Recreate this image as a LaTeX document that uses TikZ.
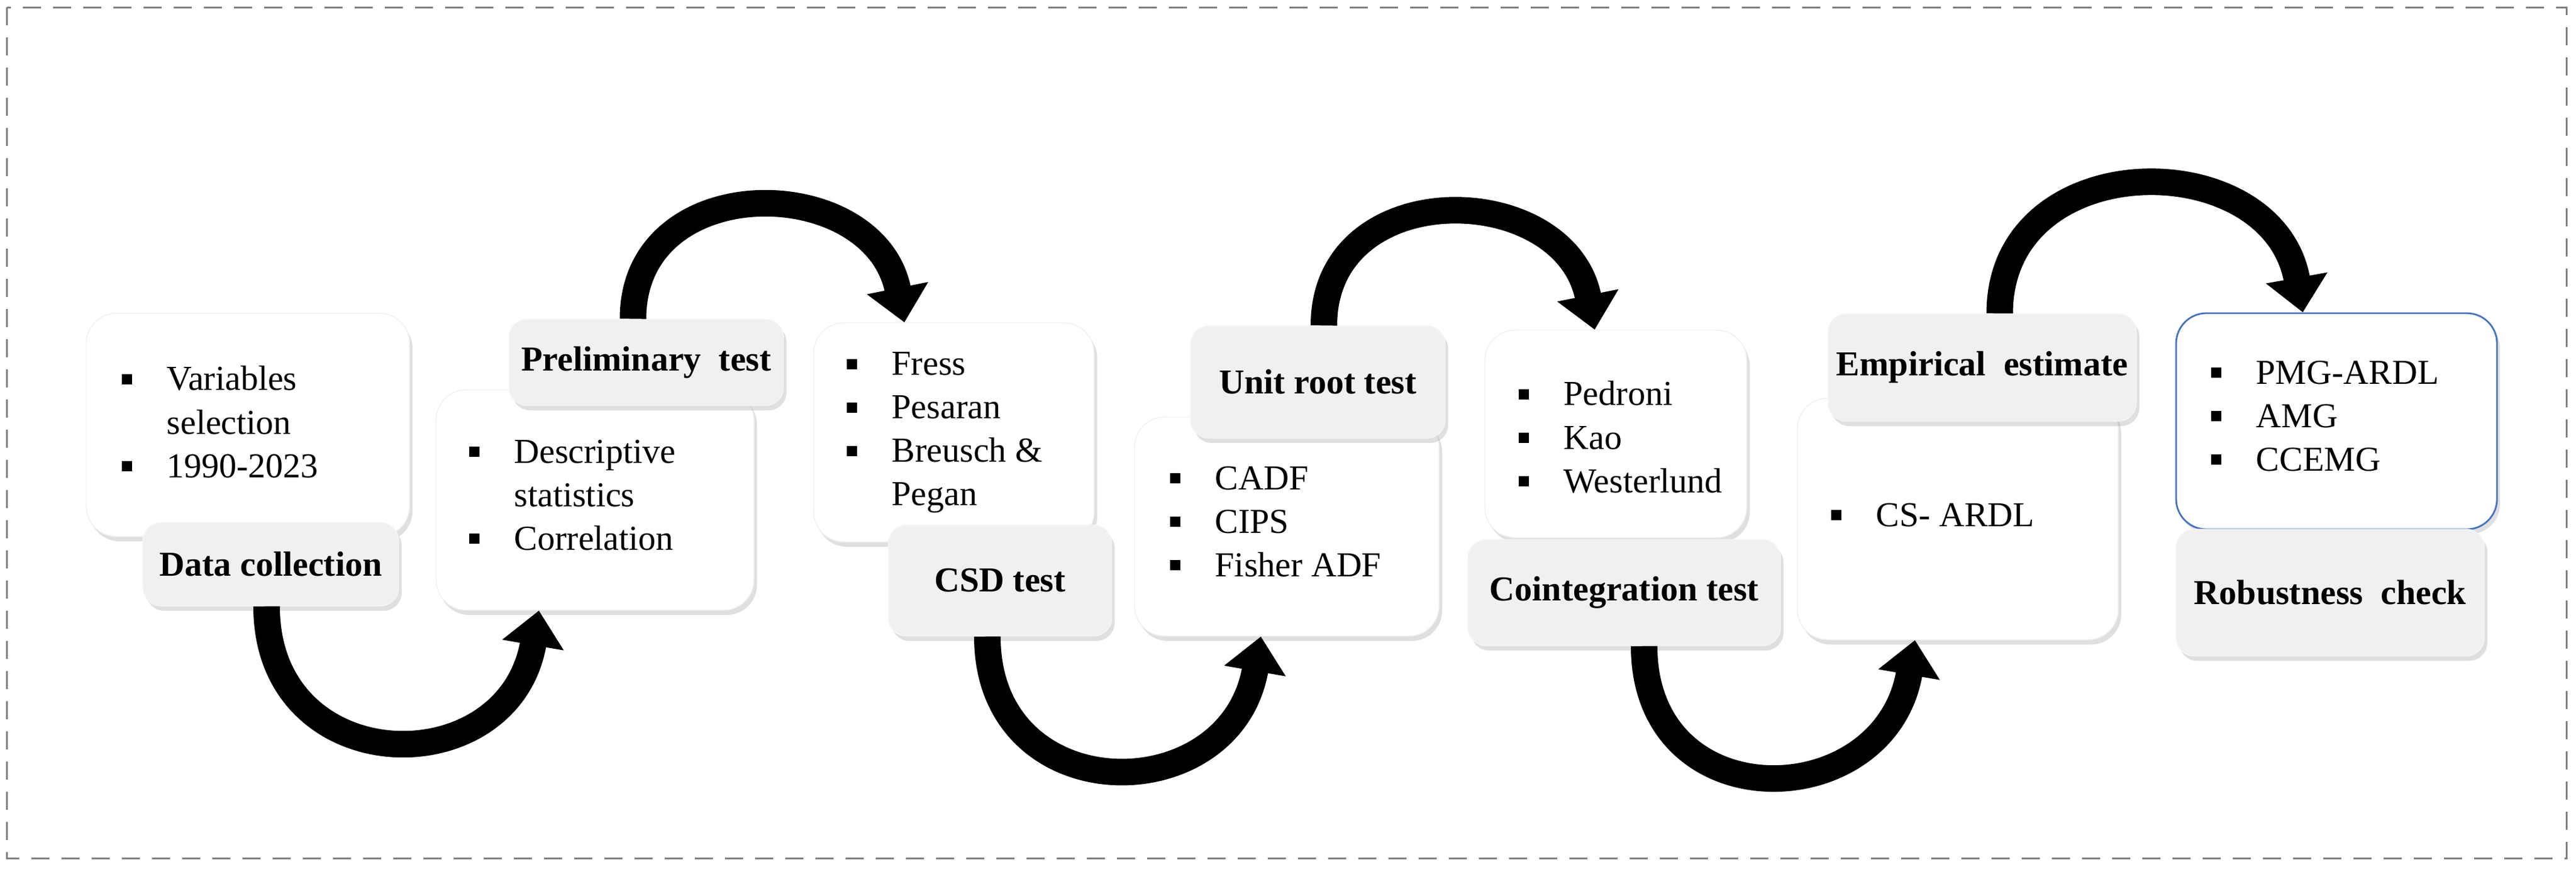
\documentclass[tikz,border=0pt]{standalone}
\usepackage{fontspec}
\setmainfont{Liberation Serif}
\usetikzlibrary{calc, shadows, arrows.meta}

\newcommand\bul{\makebox[0.75cm][l]{\rule[0.1cm]{0.17cm}{0.17cm}}}
\newcommand\ind{\hspace*{0.75cm}}

\tikzset{
	box/.style={rectangle, rounded corners=0.5cm, fill=white, draw=black!6,
		drop shadow={shadow xshift=0.05cm, shadow yshift=-0.08cm, opacity=0.25}},
	tag/.style={rectangle, rounded corners=0.3cm, fill=black!6, draw=black!4,
		font=\fontsize{16.5}{20.5}\selectfont\bfseries,
		drop shadow={shadow xshift=0.05cm, shadow yshift=-0.08cm, opacity=0.25}},
	items/.style={anchor=north west, inner sep=0pt, align=left,
		font=\fontsize{16.5}{20.5}\selectfont},
	flow/.style={line width=0.44cm, -{Triangle[width=1.0cm, length=0.58cm]}}
}

\begin{document}
\begin{tikzpicture}
		\useasboundingbox (0,0) rectangle (42.71,-14.39);
		\draw[black!50, line width=0.03cm, dash pattern=on 0.3cm off 0.2cm] (0.12,-0.12) rectangle (42.55,-14.22);

		% steps
		\node[box, minimum width=5.36cm, minimum height=3.70cm] (col) at (4.11,-7.04) {};
		\node[items] (colT) at (2.01,-6.06) {\bul Variables\\\ind selection\\\bul 1990-2023};
		\node[tag, minimum width=4.24cm, minimum height=1.38cm] (colL) at (4.49,-9.35) {Data collection};

		\node[box, minimum width=5.27cm, minimum height=3.65cm] (pre) at (9.865,-8.285) {};
		\node[items] (preT) at (7.77,-7.28) {\bul Descriptive\\\ind statistics\\\bul Correlation};
		\node[tag, minimum width=4.55cm, minimum height=1.43cm] (preL) at (10.715,-6.005) {Preliminary\ \ test};

		\node[box, minimum width=4.65cm, minimum height=3.63cm] (csd) at (15.815,-7.165) {};
		\node[items] (csdT) at (14.03,-5.83) {\bul Fress\\\bul Pesaran\\\bul Breusch \&\\\ind Pegan};
		\node[tag, minimum width=3.70cm, minimum height=1.84cm] (csdL) at (16.58,-9.62) {CSD test\hspace{0.5cm}};

		\node[box, minimum width=5.05cm, minimum height=3.63cm] (uni) at (21.335,-8.725) {};
		\node[items] (uniT) at (19.39,-7.72) {\bul CADF\\\bul CIPS\\\bul Fisher ADF};
		\node[tag, minimum width=4.22cm, minimum height=1.86cm] (uniL) at (21.85,-6.33) {Unit root test};

		\node[box, minimum width=4.34cm, minimum height=3.44cm] (coi) at (26.79,-7.19) {};
		\node[items] (coiT) at (25.17,-6.31) {\bul Pedroni\\\bul Kao\\\bul Westerlund};
		\node[tag, minimum width=5.18cm, minimum height=1.76cm] (coiL) at (26.93,-9.82) {Cointegration test};

		\node[box, minimum width=5.32cm, minimum height=4.00cm] (emp) at (32.46,-8.60) {};
		\node[items] (empT) at (30.35,-8.33) {\bul CS- ARDL};
		\node[tag, minimum width=5.11cm, minimum height=1.78cm] (empL) at (32.865,-6.09) {Empirical\ \ estimate};

		\node[box, draw={rgb,255:red,68;green,114;blue,196}, thick, minimum width=5.32cm, minimum height=3.58cm] (rob) at (38.74,-6.98) {};
		\node[items] (robT) at (36.65,-5.97) {\bul PMG-ARDL\\\bul AMG\\\bul CCEMG};
		\node[tag, minimum width=5.11cm, minimum height=2.10cm] (robL) at (38.635,-9.82) {Robustness\ \ check};

		% arrows
		\draw[flow] ($(colL.south)+(-0.07,0)$) .. controls +(0,-2.9) and +(-0.5,-2.9) .. ($(pre.south)+(-0.93,0)$);
		\draw[flow] ($(preL.north)+(-0.22,0)$) .. controls +(0,2.5) and +(-0.5,2.5) .. ($(csd.north)+(-0.82,0)$);
		\draw[flow] ($(csdL.south)+(-0.21,0)$) .. controls +(0,-2.9) and +(-0.5,-2.9) .. ($(uni.south)+(-0.43,0)$);
		\draw[flow] ($(uniL.north)+(0.10,0)$) .. controls +(0,2.5) and +(-0.5,2.5) .. ($(coi.north)+(-0.35,0)$);
		\draw[flow] ($(coiL.south)+(0.33,0)$) .. controls +(0,-2.9) and +(-0.5,-2.9) .. ($(emp.south)+(-0.71,0)$);
		\draw[flow] ($(empL.north)+(0.29,0)$) .. controls +(0,2.8) and +(-0.5,2.8) .. ($(rob.north)+(-0.56,0)$);
	\end{tikzpicture}
\end{document}
